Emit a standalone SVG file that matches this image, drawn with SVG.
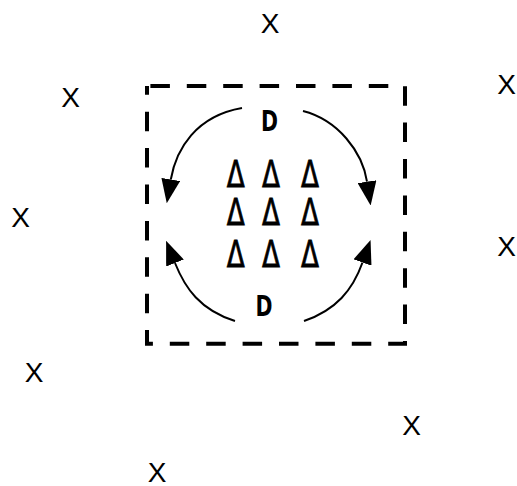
<svg xmlns="http://www.w3.org/2000/svg" width="517" height="486" viewBox="0 0 517 486">
<defs>
<style>
.x{font-family:"Liberation Sans",Arial,sans-serif;font-size:28px;fill:#000;text-anchor:middle}
.d{font-family:"DejaVu Sans",sans-serif;font-size:28px;font-weight:bold;fill:#000;text-anchor:middle}
.t{font-family:"DejaVu Sans",sans-serif;font-size:38px;fill:#000;stroke:#000;stroke-width:0.8;text-anchor:middle}
.arc{fill:none;stroke:#000;stroke-width:2;marker-end:url(#ah)}
</style>
<marker id="ah" viewBox="0 0 24 19" refX="0" refY="9.5" markerWidth="24" markerHeight="19" markerUnits="userSpaceOnUse" orient="auto">
<path d="M0,0 L24,9.5 L0,19 z" fill="#000"/>
</marker>
</defs>
<rect fill="#fff" x="0" y="0" width="517" height="486"/>
<g id="zone">
<rect x="147" y="86" width="258" height="257.7" fill="none" stroke="#000" stroke-width="4" stroke-dasharray="19.5 16.9" stroke-dashoffset="-3.4"/>
</g>
<g id="players">
<g id="x1"><text class="x" x="270" y="33">X</text></g>
<g id="x2"><text class="x" x="70.5" y="107">X</text></g>
<g id="x3"><text class="x" x="506.5" y="94">X</text></g>
<g id="x4"><text class="x" x="20.5" y="227">X</text></g>
<g id="x5"><text class="x" x="506.5" y="256">X</text></g>
<g id="x6"><text class="x" x="34" y="382">X</text></g>
<g id="x7"><text class="x" x="411.5" y="435">X</text></g>
<g id="x8"><text class="x" x="157" y="482">X</text></g>
</g>
<g id="defenders">
<g id="d1"><text class="d" x="269.5" y="131" textLength="17" lengthAdjust="spacingAndGlyphs">D</text></g>
<g id="d2"><text class="d" x="264" y="316" textLength="17" lengthAdjust="spacingAndGlyphs">D</text></g>
</g>
<g id="cones">
<text class="t" x="235.7" y="186.5" textLength="18" lengthAdjust="spacingAndGlyphs">Δ</text>
<text class="t" x="271" y="186.5" textLength="18" lengthAdjust="spacingAndGlyphs">Δ</text>
<text class="t" x="310" y="186.5" textLength="18" lengthAdjust="spacingAndGlyphs">Δ</text>
<text class="t" x="235.7" y="225" textLength="18" lengthAdjust="spacingAndGlyphs">Δ</text>
<text class="t" x="271" y="225" textLength="18" lengthAdjust="spacingAndGlyphs">Δ</text>
<text class="t" x="310" y="225" textLength="18" lengthAdjust="spacingAndGlyphs">Δ</text>
<text class="t" x="235.7" y="267" textLength="18" lengthAdjust="spacingAndGlyphs">Δ</text>
<text class="t" x="271" y="267" textLength="18" lengthAdjust="spacingAndGlyphs">Δ</text>
<text class="t" x="310" y="267" textLength="18" lengthAdjust="spacingAndGlyphs">Δ</text>
</g>
<g id="connectors">
<path class="arc" d="M242,108 C196,116 176,149 170.8,179.5"/>
<path class="arc" d="M303,111 C338,120 362.4,151.7 367,181.7"/>
<path class="arc" d="M235,321 C200,310 185,288 175,263"/>
<path class="arc" d="M304,321 C336,310 352.7,290 362.5,262.5"/>
</g>
</svg>
